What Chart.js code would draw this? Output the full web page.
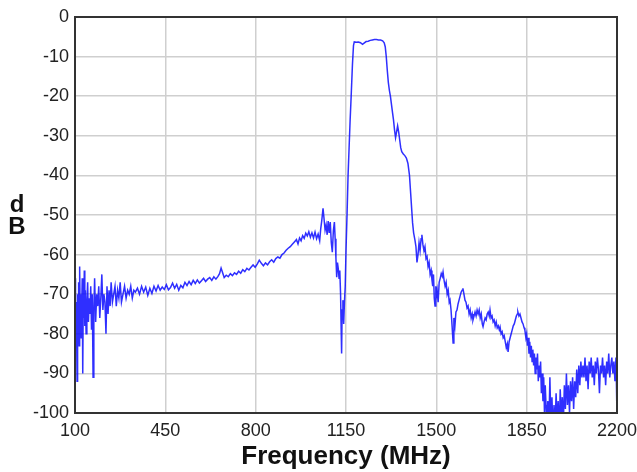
<!DOCTYPE html>
<html>
<head>
<meta charset="utf-8">
<script src="https://cdn.jsdelivr.net/npm/chart.js@4.4.1/dist/chart.umd.min.js"></script>
<style>
  html, body { margin: 0; padding: 0; background: #fff; }
  #wrap { width: 637px; height: 472px; position: relative; }
</style>
</head>
<body>
<div id="wrap"><canvas id="chart"></canvas></div>
<script>

// tramo ruidoso de baja frecuencia
const lowFreq = [100,102,104,106,108,110,112,114,116,118,120,122,124,126,128,130,132,134,136,138,140,
  143,146,149,152,155,158,161,164,167,170,173,176,
  180,184,188,192,196,200,204,208,212,216,220,224,228,232,236,240,
  245,250,255,260,265,270,275,280,
  286,292,298,304,310,316,322,328];
const lowDb = [-66,-79,-72,-77,-92,-70,-74,-67,-83,-63,-75,-70,-81,-73,-66,-90,-71,-76,-64,-78,-69,
  -80,-72,-67,-77,-71,-75,-68,-79,-70,-91,-74,-66,
  -77,-70,-73,-68,-76,-71,-65,-74,-70,-72,-80,-68,-75,-69,-73,-67,
  -72,-70,-68,-73,-69,-71,-67,-72,
  -70,-68,-71,-69,-70,-68,-71,-69];

// subida lenta hasta ~650 MHz
const slopeFreq = [334,342,350,358,366,374,382,390,398,406,414,422,430,438,446,454,462,470,478,486,
  494,502,510,518,526,534,542,550,558,566,574,582,590,598,606,614,622,630,638,646,654];
const slopeDb = [-69.5,-68.5,-70,-68,-69.5,-68.2,-70.3,-68.5,-69.8,-68,
  -69.2,-67.8,-69,-68.2,-68.8,-67.6,-68.9,-68.3,-67.2,-68.5,
  -67.5,-69,-67.8,-68.4,-67,-67.8,-66.8,-67.6,-66.5,-67.3,
  -66.4,-67.2,-66.6,-66,-66.8,-66.2,-65.8,-66.5,-65.6,-66.2,
  -65.5];

// subida hasta ~1050 MHz
const riseFreq = [660,666,672,678,
  686,694,702,710,718,726,734,742,750,758,766,774,782,790,798,806,814,822,830,838,846,854,862,870,878,886,894,902,910,918,926,934,942,950,958,
  964,970,976,982,988,994,1000,1006,1012,1018,1024,1030,1036,1042,1048];
const riseDb = [-64.8,-63.4,-64.6,-65.8,
  -65.2,-65.6,-64.8,-65.3,-64.6,-65,-64.2,-64.7,-63.8,-64.3,
  -63.5,-63.9,-63.2,-62.6,-63.2,-62.4,-61.4,-62.2,-62.8,-62.1,
  -62.6,-61.8,-61.3,-61.9,-61,-60.6,-60.9,-60,-59.6,-58.9,
  -58.4,-58,-57.4,-56.8,-56.2,
  -57.3,-55.8,-56.5,-55.2,-55.9,-54.6,-55.3,-54.2,-55.6,-54.5,-55.8,-54.3,-56,-54.8,-56.5];

// zona del notch antes de la banda
const notchFreq = [1052,1056,1061,1065,1069,1073,1077,1081,1085,1089,
  1093,1097,1101,1105,1108,1111,1114,1117,1120,1123,
  1126,1129,1131,1133,1135,1138,1141,1144,1147];
const notchDb = [-53.5,-51.5,-48.3,-51,-53.8,-52.5,-55,-51.5,-54.5,-51.8,
  -57,-59.4,-54,-51.8,-56,-61,-65.7,-62,-63.5,-66,
  -64,-70,-78,-85,-74,-71.5,-77.5,-72,-68];

// banda de paso
const passFreq = [1150,1154,1158,1162,1166,1170,1175,1179,1182,
  1190,1198,1206,1214,1220,1228,1236,1244,1252,1260,1268,1276,1284,1292,
  1298,1302,1306,1310,1314,1318,1322,1326,1330,1334,1338,1342,1346,1350,
  1354,1358,1362,1366,1372,1378,1384,1390,1396,1400,1404,1408];
const passDb = [-59,-50,-40,-33,-26,-20,-12,-7.2,-6.3,
  -6.4,-6.3,-6.5,-6.9,-6.6,-6.2,-6.1,-5.9,-5.8,-5.7,-5.7,-5.8,-5.8,-6.0,
  -6.5,-7.5,-10,-13.5,-16.5,-18.5,-20,-22,-24,-26,-28.5,-30.5,-29,-27.5,
  -29,-31,-33,-34,-34.6,-35,-35.6,-37,-40,-44,-48,-52];

// caída tras la banda
const fallFreq = [1412,1417,1421,1425,1429,1433,1437,1441,1444,1448,
  1452,1456,1460,1464,1468,1472,1476,1480,1483,1486,
  1489,1492,1495,1498,1501,1503,1507,1511,1515,1519,
  1523,1526,1530,1534,1538,1542,1546,1550,1553,1557,
  1561,1565,1568,1572,1576,1580,1584,1588,1592,1596,
  1600,1603];
const fallDb = [-54.5,-56.3,-58,-62,-60,-57,-59,-56,-55,-57.5,
  -59,-58,-61,-60.5,-63,-62,-65,-64,-66.4,-68,
  -65,-71,-73,-68,-70,-69,-72,-67,-66,-64.8,
  -65.5,-64.4,-66.5,-68,-67,-70,-69,-72,-71.5,-74,
  -78,-82.3,-76,-78,-74.5,-74,-72.5,-71.5,-70.5,-69.5,
  -69,-68.5];

const tailFreq = [1607,1611,1615,1619,1623,1627,1631,1635,1639,1642,
  1646,1650,1654,1658,1662,1666,1670,1674,1678,1681,
  1685,1689,1693,1697,1701,1705,1708,1712,1716,1720,
  1724,1728,1732,1736,1740,1744,1747,1751,1755,1759,
  1763,1767,1771,1775,1778,1782,1786,1790,1794,1798,
  1802,1806,1810,1814,1816,1820,1824,1828,1832,1836,
  1840,1843,1847];
const tailDb = [-70,-71.5,-72,-73.5,-73,-75,-74,-76,-75,-76.5,
  -75.5,-74.5,-75.5,-74,-75,-74,-76,-75,-77.5,-78.2,
  -77,-76,-76.5,-75,-74.5,-75.5,-74,-76,-75.5,-77,
  -76.5,-78,-77,-78.5,-78,-79,-78.3,-80,-79.5,-81,
  -80.5,-82,-83.5,-82.5,-84.6,-82,-81,-80,-79,-78,
  -77.5,-76.5,-75.5,-75,-74.5,-75.5,-75,-76,-77,-77.5,
  -78.5,-79,-81];

const dropFreq = [1850,1853,1856,1859,1862,1865,1868,1871,1874,1877,
  1880,1883,1886,1889,1892,1895,1898,1901,1904,1907,
  1910,1913,1916,1919,1922,1925,1928];
const dropDb = [-80,-83,-81,-85,-82,-86,-83,-87,-84,-88,
  -85,-90,-86,-89,-85,-92,-88,-91,-87,-95,
  -90,-97,-91,-100,-93,-98,-104];

// suelo de ruido (se recorta en -100)
const floorFreq = [1932,1936,1940,1944,1948,1952,1956,1960,1964,1968,
  1972,1976,1980,1984,1988,1992,1996,2000,2004,2008,
  2012,2016,2020,2024,2028,2032,2036,2040,2044,2048,
  2052,2056,2060,2064];
const floorDb = [-97,-104,-91,-103,-96,-105,-98,-104,-95,-102,
  -97,-105,-94,-101,-96,-103,-93,-99,-90,-98,
  -93,-100,-92,-97,-91,-99,-92,-96,-89,-95,
  -88,-93,-87,-91];

const endFreq = [2068,2072,2076,2080,2084,2088,2092,2096,2100,2104,
  2108,2112,2116,2120,2124,2128,2132,2136,2140,2144,
  2148,2152,2156,2160,2164,2168,2172,2176,2180,2184,
  2188,2192,2196,2200];
const endDb = [-88,-91,-86,-92,-88,-94,-87,-90,-86,-91,
  -88,-93,-87,-90,-86,-89,-95,-88,-90,-86,
  -91,-88,-93,-87,-90,-85,-91,-88,-86,-90,
  -87,-92,-86,-101];

const xTicks = [100, 450, 800, 1150, 1500, 1850, 2200];
const yTicks = [0, -10, -20, -30, -40, -50, -60, -70, -80, -90, -100];

const freqMHz = [].concat(lowFreq, slopeFreq, riseFreq, notchFreq, passFreq, fallFreq, tailFreq, dropFreq, floorFreq, endFreq);
const levelDb = [].concat(lowDb, slopeDb, riseDb, notchDb, passDb, fallDb, tailDb, dropDb, floorDb, endDb);
if (freqMHz.length !== levelDb.length) console.error('longitudes distintas', freqMHz.length, levelDb.length);

const points = freqMHz.map((f, i) => ({ x: f, y: levelDb[i] }));

const FONT = "'Liberation Sans', Arial, Helvetica, sans-serif";

// marco del área y etiqueta "dB" apilada
const framePlugin = {
  id: 'frame',
  afterDatasetsDraw(chart) {
    const { ctx, chartArea: a } = chart;
    ctx.save();
    ctx.strokeStyle = '#333';
    ctx.lineWidth = 2;
    ctx.strokeRect(a.left, a.top, a.right - a.left, a.bottom - a.top);
    ctx.restore();
  },
  afterDraw(chart) {
    const ctx = chart.ctx;
    ctx.save();
    ctx.fillStyle = '#111';
    ctx.font = 'bold 24px ' + FONT;
    ctx.textAlign = 'center';
    ctx.textBaseline = 'alphabetic';
    ctx.fillText('d', 17, 212);
    ctx.fillText('B', 17, 234);
    ctx.restore();
  }
};

new Chart(document.getElementById('chart'), {
  type: 'line',
  data: {
    datasets: [{
      data: points,
      borderColor: 'rgba(10, 10, 255, 0.85)',
      borderWidth: 1.5,
      pointRadius: 0,
      tension: 0,
      fill: false
    }]
  },
  options: {
    responsive: true,
    maintainAspectRatio: false,
    animation: false,
    layout: { padding: { top: 17, right: 20, left: 0, bottom: 0 } },
    plugins: { legend: { display: false }, tooltip: { enabled: false } },
    scales: {
      x: {
        type: 'linear',
        min: 100,
        max: 2200,
        afterBuildTicks: s => { s.ticks = xTicks.map(v => ({ value: v })); },
        afterFit: s => { s.height = 59; s.paddingLeft = 0; s.paddingRight = 0; },
        grid: { color: '#cfcfcf', lineWidth: 1.5, drawTicks: false },
        border: { display: false },
        ticks: { padding: 7, maxRotation: 0, autoSkip: false, color: '#222',
                 font: { family: FONT, size: 18 }, callback: v => String(v) },
        title: { display: true, text: 'Frequency (MHz)', color: '#111', padding: { top: 0, bottom: 0 },
                 font: { family: FONT, size: 26, weight: 'bold' } }
      },
      y: {
        min: -100,
        max: 0,
        afterBuildTicks: s => { s.ticks = yTicks.map(v => ({ value: v })); },
        afterFit: s => { s.width = 75; s.paddingTop = 0; s.paddingBottom = 0; },
        grid: { color: '#cfcfcf', lineWidth: 1.5, drawTicks: false },
        border: { display: false },
        ticks: { padding: 6, color: '#222', font: { family: FONT, size: 18 }, callback: v => String(v) }
      }
    }
  },
  plugins: [framePlugin]
});
</script>
</body>
</html>
